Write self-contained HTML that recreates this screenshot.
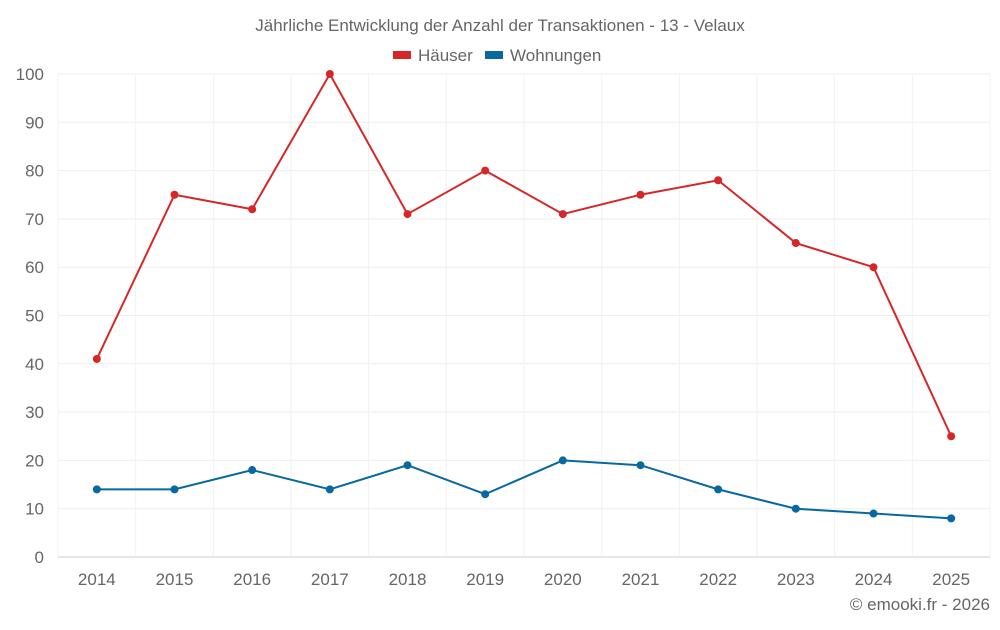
<!DOCTYPE html>
<html><head><meta charset="utf-8"><style>
body{margin:0;background:#fff;font-family:"Liberation Sans",sans-serif}
svg text{font-family:"Liberation Sans",sans-serif;fill:#666}
</style></head><body>
<svg id="c" width="1000" height="625">
<text x="500" y="31" text-anchor="middle" font-size="17">Jährliche Entwicklung der Anzahl der Transaktionen - 13 - Velaux</text>
<g>
<g><rect x="393" y="51" width="18" height="8" fill="#d62728"/><text x="418" y="61" font-size="17">Häuser</text></g>
<g><rect x="485" y="51" width="18" height="8" fill="#0868a0"/><text x="510" y="61" font-size="17">Wohnungen</text></g>
</g>
<g id="grid"></g><g id="axes"></g><g id="series"></g>
<text x="990" y="610" text-anchor="end" font-size="17">© emooki.fr - 2026</text>
</svg>
<script>
const categories=["2014","2015","2016","2017","2018","2019","2020","2021","2022","2023","2024","2025"];
const haeuser=[41,75,72,100,71,80,71,75,78,65,60,25];
const wohnungen=[14,14,18,14,19,13,20,19,14,10,9,8];
const yTicks=[0,10,20,30,40,50,60,70,80,90,100];
const L=58,R=990,T=74,B=557,yMax=100;
const bw=(R-L)/categories.length;
const x=i=>L+bw*(i+0.5);
const y=v=>B-(v/yMax)*(B-T);
const ns="http://www.w3.org/2000/svg";
function mk(t,a,p){const e=document.createElementNS(ns,t);for(const k in a)e.setAttribute(k,a[k]);p.appendChild(e);return e;}
const g=document.getElementById('grid'),ax=document.getElementById('axes'),s=document.getElementById('series');
yTicks.forEach(v=>{
const l=mk('line',{x1:L,x2:R,y1:y(v),y2:y(v),stroke:v===0?'#ccc':'#eeeeee'},g);


const t=mk('text',{x:L-14,y:y(v)+6,'text-anchor':'end','font-size':17},ax);t.textContent=v;


});
for(let i=0;i<=categories.length;i++){
const l=mk('line',{x1:L+bw*i,x2:L+bw*i,y1:T,y2:B,stroke:'#f2f2f2'},g);


}
categories.forEach((c,i)=>{
const t=mk('text',{x:x(i),y:585,'text-anchor':'middle','font-size':17},ax);t.textContent=c;


});
function draw(d,col,name){
const p=mk('polyline',{points:d.map((v,i)=>x(i)+','+y(v)).join(' '),fill:'none',stroke:col,'stroke-width':2},s);


d.forEach((v,i)=>{
const c=mk('circle',{cx:x(i),cy:y(v),r:4,fill:col},s);


});
}
draw(haeuser,'#d62728','haeuser');
draw(wohnungen,'#0868a0','wohnungen');
</script>
</body></html>
